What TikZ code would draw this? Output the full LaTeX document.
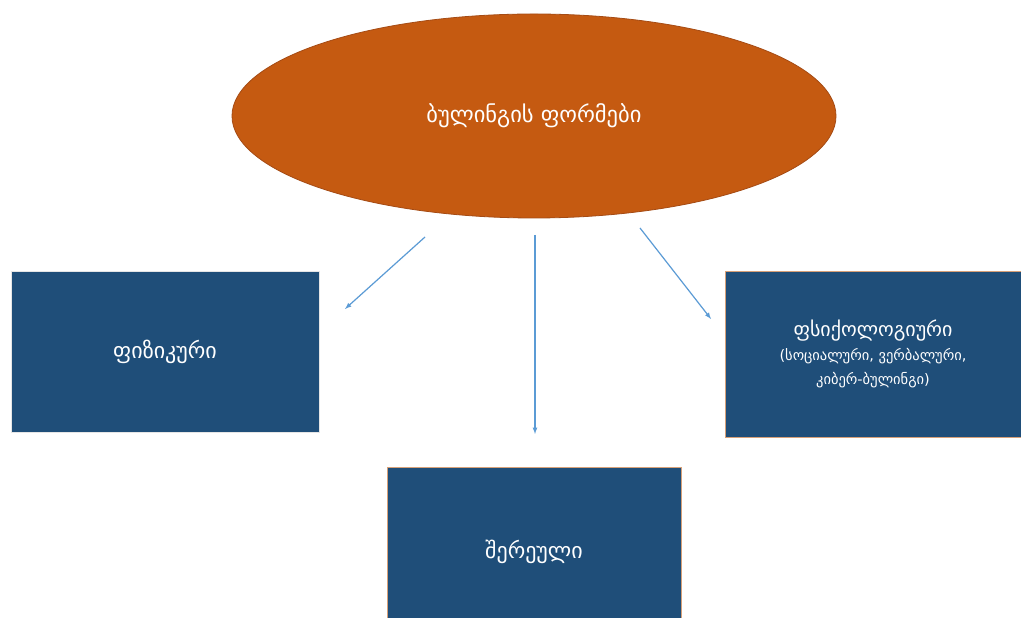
\documentclass[tikz,border=0pt]{standalone}
\usepackage{fontspec}
\setmainfont{DejaVu Sans}
\usetikzlibrary{shapes.geometric}
\definecolor{formorange}{RGB}{197,90,17}
\definecolor{formedge}{RGB}{165,75,20}
\definecolor{formblue}{RGB}{31,78,121}
\definecolor{formtan}{RGB}{215,160,120}
\definecolor{formarrow}{RGB}{91,155,213}

\begin{document}
\begin{tikzpicture}[x=1pt,y=1pt,
        formtype/.style={rectangle, fill=formblue, text=white, align=center, inner sep=0pt},
        formarr/.style={-latex, draw=formarrow, line width=1.2pt}]%
        \clip (0,0) rectangle (1021,618);
        \fill[white] (0,0) rectangle (1021,618);
        \node[ellipse, fill=formorange, draw=formedge, line width=0.8pt, text=white,
              minimum width=604, minimum height=204, inner sep=0pt,
              font=\fontsize{22.5}{26}\selectfont] (forms) at (534,502) {ბულინგის ფორმები};
        \node[formtype, draw=white!80!gray, minimum width=308, minimum height=161,
              font=\fontsize{22}{26}\selectfont] (physical) at (165,266) {ფიზიკური};
        \node[formtype, draw=formtan, minimum width=296, minimum height=166,
              font=\fontsize{14.5}{24}\selectfont] (psycho) at (873,264)
              {{\fontsize{20}{24}\selectfont ფსიქოლოგიური}\\
               (სოციალური, ვერბალური,\\
               კიბერ-ბულინგი)};
        \node[formtype, draw=formtan, minimum width=294, minimum height=170,
              font=\fontsize{22}{26}\selectfont] (mixed) at (534,66) {შერეული};
        \coordinate (a1) at (425,381);
        \coordinate (b1) at (345,309);
        \coordinate (a2) at (535,383);
        \coordinate (b2) at (535,184);
        \coordinate (a3) at (640,390);
        \coordinate (b3) at (711,299);
        \draw[formarr] (a1) -- (b1);
        \draw[formarr] (a2) -- (b2);
        \draw[formarr] (a3) -- (b3);
    \end{tikzpicture}
\end{document}
